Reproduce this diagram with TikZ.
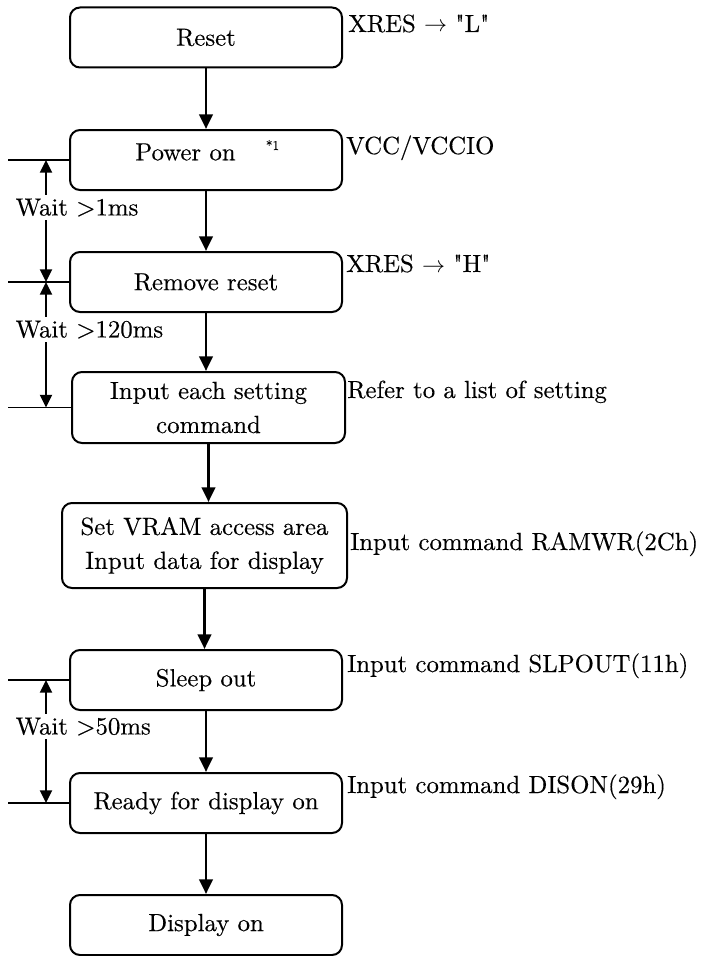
\documentclass[tikz,border=0pt]{standalone}
\usepackage{fontspec}
\setmainfont{lmroman10-regular.otf}[FakeBold=0.3]
\usetikzlibrary{arrows.meta}
\newcommand\mainfs{\fontsize{18.6}{25.5}\selectfont}
\begin{document}
\begin{tikzpicture}[x=0.75pt,y=-0.75pt,
  box/.style={draw, line width=1.5pt, rounded corners=7.5pt, minimum width=204pt,
    minimum height=45pt, inner sep=0pt, align=center, font=\mainfs},
  lbl/.style={anchor=base west, inner sep=0pt, font=\mainfs},
  waittxt/.style={anchor=west, fill=white, inner xsep=1pt, inner ysep=2.5pt, font=\mainfs},
  flow/.style={line width=2.2pt, -{Triangle[length=11pt,width=10pt]}},
  waitarrow/.style={line width=1.4pt, {Triangle[length=9.5pt,width=9pt]}-{Triangle[length=9.5pt,width=9pt]}},
  thinline/.style={line width=1.1pt}]
\path[use as bounding box, fill=white] (0,0) rectangle (704,956);

% boxes
\node[box] (reset) at (206,37.5) {Reset};
\node[box] (power) at (206,160) {};
\node[font=\mainfs, inner sep=0pt] (powertxt) at (185.5,152) {Power on};
\node[font=\fontsize{10}{10}\selectfont, inner sep=0pt] (star) at (272.5,145) {*1};
\node[box] (remove) at (206,282) {Remove reset};
\node[box, minimum width=204.75pt, minimum height=53.25pt] (input) at (208.5,407.5) {Input each setting\\command};
\node[box, minimum width=213.75pt, minimum height=63.75pt] (vram) at (204.5,545.5) {Set VRAM access area\\Input data for display};
\node[box] (sleep) at (206,680) {Sleep out};
\node[box] (ready) at (206,803) {Ready for display on};
\node[box] (display) at (206,925) {Display on};

% flow arrows
\draw[flow] (reset.south) -- (power.north);
\draw[flow] (power.south) -- (remove.north);
\draw[flow] (remove.south) -- (remove.south |- input.north);
\draw[flow] (input.south) -- (input.south |- vram.north);
\draw[flow] (vram.south) -- (vram.south |- sleep.north);
\draw[flow] (sleep.south) -- (ready.north);
\draw[flow] (ready.south) -- (display.north);

% right labels
\node[lbl] (lreset) at (348,32) {XRES $\rightarrow$ \textquotedbl L\textquotedbl};
\node[lbl] (lpower) at (346,154) {VCC/VCCIO};
\node[lbl] (lremove) at (346,272) {XRES $\rightarrow$ \textquotedbl H\textquotedbl};
\node[lbl] (linput) at (347,398) {Refer to a list of setting};
\node[lbl] (lvram) at (350,550) {Input command RAMWR(2Ch)};
\node[lbl] (lsleep) at (347,672) {Input command SLPOUT(11h)};
\node[lbl] (lready) at (347,793) {Input command DISON(29h)};

% wait markers
\coordinate (lx) at (8,0);
\coordinate (wx) at (46,0);
\draw[thinline] (power.west) -- (power.west -| lx);
\draw[thinline] (remove.west) -- (remove.west -| lx);
\draw[thinline] (input.west) -- (input.west -| lx);
\draw[thinline] (sleep.west) -- (sleep.west -| lx);
\draw[thinline] (ready.west) -- (ready.west -| lx);

\draw[waitarrow] (power.west -| wx) -- (remove.west -| wx);
\draw[waitarrow] (remove.west -| wx) -- (input.west -| wx);
\draw[waitarrow] (sleep.west -| wx) -- (ready.west -| wx);

\node[waittxt] (w1) at (14,207.5) {Wait >1ms};
\node[waittxt] (w2) at (14,329.5) {Wait >120ms};
\node[waittxt] (w3) at (14,726.5) {Wait >50ms};
\end{tikzpicture}
\end{document}
